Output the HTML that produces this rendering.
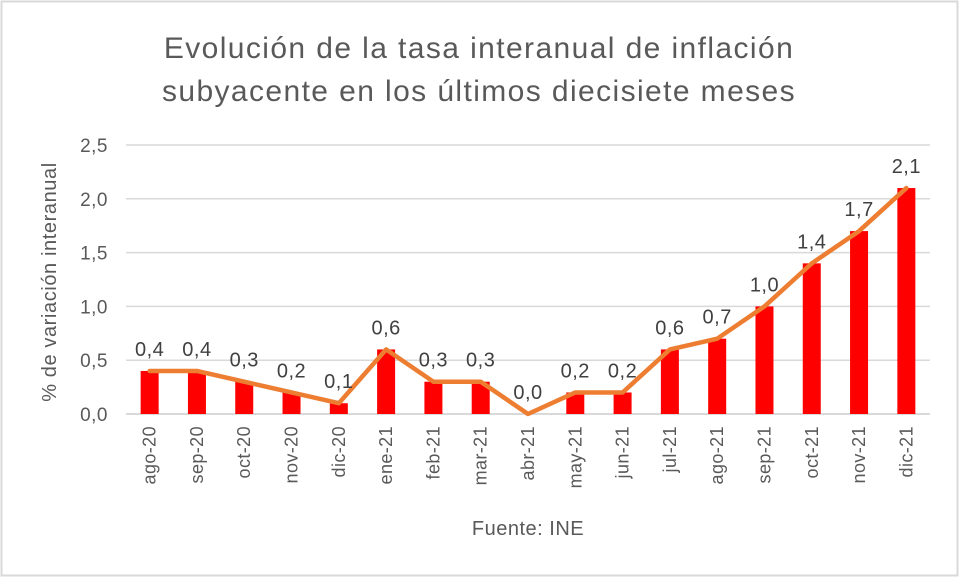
<!DOCTYPE html>
<html><head><meta charset="utf-8"><style>
body{margin:0;background:#fff;}
svg{display:block;font-family:"Liberation Sans",sans-serif;}
</style></head><body>
<svg id="chart" width="959" height="577">
<rect x="1.5" y="1.5" width="956" height="574" fill="#fff" stroke="#d9d9d9" stroke-width="2"/>
<text x="479" y="58" text-anchor="middle" font-size="30" letter-spacing="1.4" fill="#595959">Evolución de la tasa interanual de inflación</text>
<text x="479" y="101" text-anchor="middle" font-size="30" letter-spacing="1.4" fill="#595959">subyacente en los últimos diecisiete meses</text>
<text transform="translate(56,282) rotate(-90)" text-anchor="middle" font-size="20" letter-spacing="0.6" fill="#595959">% de variación interanual</text>
<text x="528" y="535" text-anchor="middle" font-size="20" letter-spacing="0.5" fill="#595959">Fuente: INE</text>
<g id="grid"></g><g id="bars"></g><g id="line"></g><g id="labels"></g>
</svg>
<script>
const categories=["ago-20","sep-20","oct-20","nov-20","dic-20","ene-21","feb-21","mar-21","abr-21","may-21","jun-21","jul-21","ago-21","sep-21","oct-21","nov-21","dic-21"];
const values=[0.4,0.4,0.3,0.2,0.1,0.6,0.3,0.3,0.0,0.2,0.2,0.6,0.7,1.0,1.4,1.7,2.1];
const yTicks=[0,0.5,1.0,1.5,2.0,2.5];
const NS="http://www.w3.org/2000/svg";
const left=126,right=930,y0=414,y1=145,ymax=2.5;
const bw=(right-left)/categories.length;
const xs=i=>left+bw*(i+0.5);
const ys=v=>y0-(v/ymax)*(y0-y1);
function mk(tag,attrs,parent){const e=document.createElementNS(NS,tag);for(const k in attrs)e.setAttribute(k,attrs[k]);document.getElementById(parent).appendChild(e);return e;}
yTicks.forEach(t=>{
 const l=mk("line",{x1:left,x2:right,y1:ys(t),y2:ys(t),stroke:"#d9d9d9","stroke-width":1.5},"grid");
 
 
 const tx=mk("text",{x:left-18,y:ys(t)+7,"text-anchor":"end","font-size":19,"letter-spacing":0.5,fill:"#595959"},"grid");
 tx.textContent=t.toFixed(1).replace(".",",");
 
 
});
categories.forEach((c,i)=>{
 const h=y0-ys(values[i]);
 const r=mk("rect",{x:xs(i)-9,y:ys(values[i]),width:18,height:h,fill:"#ff0000"},"bars");
 
 
 const tx=mk("text",{transform:`translate(${xs(i)+6},${y0+12}) rotate(-90)`,"text-anchor":"end","font-size":18,"letter-spacing":0.4,fill:"#595959"},"grid");
 tx.textContent=c;
 
 
 const lb=mk("text",{x:xs(i),y:ys(values[i])-15,"text-anchor":"middle","font-size":20,"letter-spacing":0.5,fill:"#404040"},"labels");
 lb.textContent=values[i].toFixed(1).replace(".",",");
 
 
});
const ax=mk("line",{x1:left,x2:right,y1:y0,y2:y0,stroke:"#d9d9d9","stroke-width":2},"grid");


const p=mk("polyline",{points:values.map((v,i)=>xs(i)+","+ys(v)).join(" "),fill:"none",stroke:"#ed7d31","stroke-width":4.5,"stroke-linejoin":"round","stroke-linecap":"round"},"line");


</script>
</body></html>
